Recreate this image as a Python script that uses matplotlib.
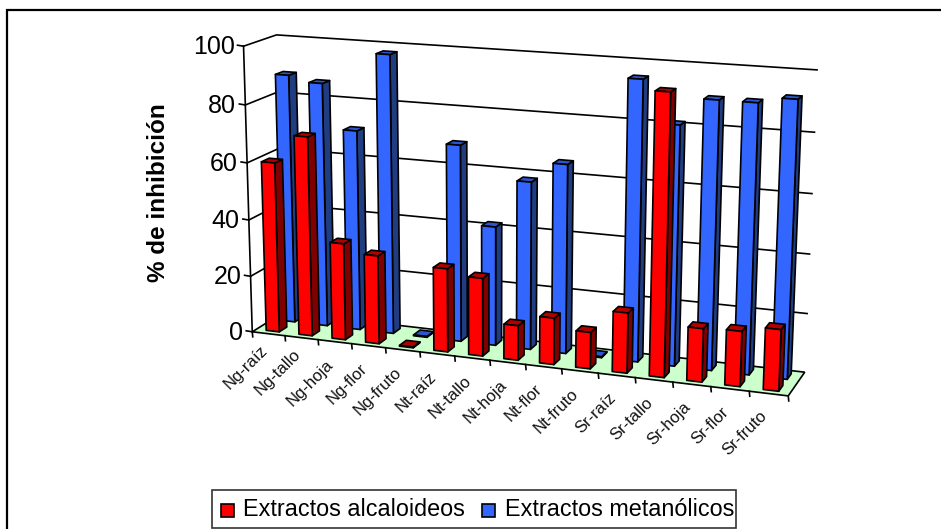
import numpy as np
import matplotlib
matplotlib.use("Agg")
import matplotlib.pyplot as plt
from matplotlib.patches import Polygon, Rectangle

plt.rcParams['font.family'] = ['Liberation Sans', 'DejaVu Sans']

categories = ['Ng-raíz', 'Ng-tallo', 'Ng-hoja', 'Ng-flor', 'Ng-fruto',
              'Nt-raíz', 'Nt-tallo', 'Nt-hoja', 'Nt-flor', 'Nt-fruto',
              'Sr-raíz', 'Sr-tallo', 'Sr-hoja', 'Sr-flor', 'Sr-fruto']
alcaloideos = [60, 70, 34, 31, 0.3, 29, 27, 12, 16, 12.5, 20.5, 94, 18, 18.5, 20.5]
metanolicos = [88, 86, 70.5, 97.5, 0.3, 68.5, 41.5, 58, 65, 0.3, 95, 81, 90, 90, 92]
yticks = [0, 20, 40, 60, 80, 100]
ylabel = '% de inhibición'
series_names = ['Extractos alcaloideos', 'Extractos metanólicos']

W, H = 941, 529
RED, RED_D, RED_T = '#FF0000', '#800000', '#B00000'
BLU, BLU_D, BLU_T = '#3366FF', '#1F3D80', '#2B55CC'
FLOOR = '#CCFFCC'
LW = 1.2
n = len(categories)

# camera calibration: (category pos, value, depth) -> pixel
world = np.array([[0, 0, 0], [n, 0, 0], [0, 0, 1], [n, 0, 1],
                  [0, 100, 0], [0, 100, 1], [n, 100, 1]], float)
pix = np.array([[253, 331], [788, 397], [283, 313], [805, 371],
                [243, 46], [277, 35], [817, 70]], float)
A, b = [], []
for (X, Y, Z), (u, v) in zip(world, pix):
    A.append([X, Y, Z, 1, 0, 0, 0, 0, -u * X, -u * Y, -u * Z]); b.append(u)
    A.append([0, 0, 0, 0, X, Y, Z, 1, -v * X, -v * Y, -v * Z]); b.append(v)
P = np.append(np.linalg.lstsq(np.array(A), np.array(b), rcond=None)[0], 1).reshape(3, 4)


def proj(x, y, z):
    q = P @ np.array([x, y, z, 1.0])
    return q[0] / q[2], q[1] / q[2]


fig = plt.figure(figsize=(W / 100, H / 100), dpi=100)
ax = fig.add_axes([0, 0, 1, 1])
ax.set_xlim(0, W)
ax.set_ylim(H, 0)
ax.axis('off')

# chart frame: only top and left edges fall inside the picture
ax.plot([7, 7, W], [H, 10, 10], color='black', lw=1.6, solid_joinstyle='miter')

# floor
ax.add_patch(Polygon([proj(0, 0, 0), proj(n, 0, 0), proj(n, 0, 1), proj(0, 0, 1)],
                     fc=FLOOR, ec='black', lw=LW, zorder=2))

# gridlines on side and back wall
for v in yticks:
    p0, p1, p2 = proj(0, v, 0), proj(0, v, 1), proj(n, v, 1)
    if v:
        ax.plot([p0[0], p1[0], p2[0]], [p0[1], p1[1], p2[1]], color='black', lw=LW, zorder=1)
    t = (p0[0] - 6, p0[1] - 1)
    ax.plot([t[0], p0[0]], [t[1], p0[1]], color='black', lw=LW, zorder=3)
    ax.text(p0[0] - 9, p0[1] + 1, str(v), ha='right', va='center', fontsize=18)
a, c = proj(0, 0, 0), proj(0, 100, 0)
ax.plot([a[0], c[0]], [a[1], c[1]], color='black', lw=LW, zorder=3)

# category ticks and labels
for i in range(n + 1):
    a = proj(i, 0, 0)
    ax.plot([a[0], a[0] + 0.5], [a[1], a[1] + 5], color='black', lw=LW, zorder=3)
    if i < n:
        m = proj(i + 0.5, 0, 0)
        ax.text(m[0] - 9, m[1] + (9 if i < 2 else 15), categories[i], rotation=45,
                rotation_mode='anchor', ha='right', va='top', fontsize=12, color='#111111')

ax.text(159, 193, ylabel, rotation=90, ha='center', va='center', fontsize=17.5, fontweight='bold')


def bar(i, val, z0, z1, front, side, top, zo):
    x0, x1 = i + 0.3, i + 0.7
    faces = [
        ([(x1, 0, z0), (x1, 0, z1), (x1, val, z1), (x1, val, z0)], side),
        ([(x0, val, z0), (x1, val, z0), (x1, val, z1), (x0, val, z1)], top),
        ([(x0, 0, z0), (x1, 0, z0), (x1, val, z0), (x0, val, z0)], front),
    ]
    for pts, col in faces:
        ax.add_patch(Polygon([proj(*p) for p in pts], fc=col, ec='black', lw=LW,
                             joinstyle='round', zorder=zo))


for i, v in enumerate(metanolicos):
    bar(i, v, 0.63, 0.87, BLU, BLU_D, BLU_T, 4 + i * 0.01)
for i, v in enumerate(alcaloideos):
    bar(i, v, 0.13, 0.37, RED, RED_D, RED_T, 5 + i * 0.01)

# legend
ax.add_patch(Rectangle((212, 490), 524, 38, fc='white', ec='#333333', lw=1.2, zorder=6))
for x, tx, col, name in [(221, 243, RED, series_names[0]), (482, 505, BLU, series_names[1])]:
    ax.add_patch(Rectangle((x, 503.5), 13, 13, fc=col, ec='black', lw=1.2, zorder=7))
    ax.text(tx, 510, name, ha='left', va='center', fontsize=16.8, zorder=7)

fig.savefig('out.png', dpi=100)
